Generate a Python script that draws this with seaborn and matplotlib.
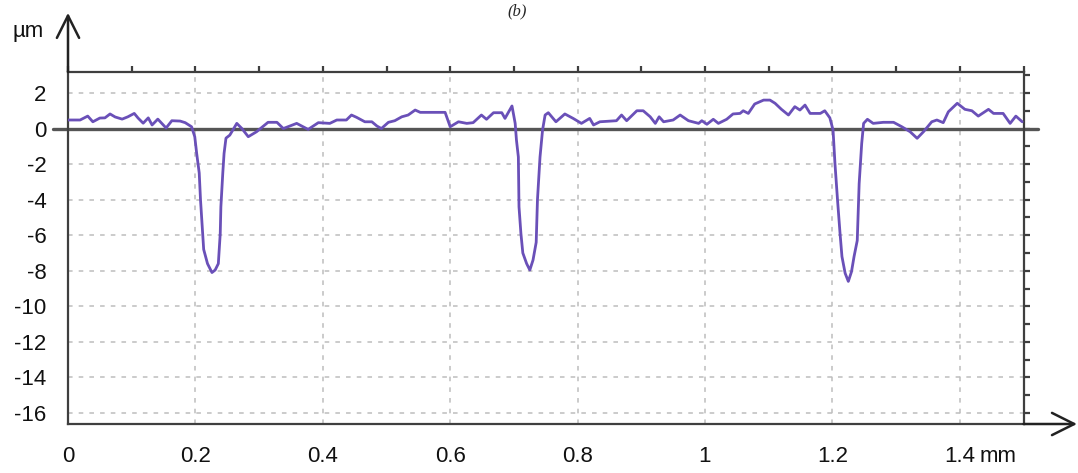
import matplotlib
matplotlib.use("Agg")
import matplotlib.pyplot as plt
import matplotlib.transforms as mtransforms
import seaborn as sns

# profile: position in mm, height in um
pos_mm = [0.000, 0.019, 0.031, 0.039, 0.050, 0.058, 0.066, 0.074, 0.085, 0.094,
          0.104, 0.110, 0.118, 0.126, 0.132, 0.141, 0.154, 0.163, 0.176, 0.184,
          0.194, 0.199, 0.202, 0.206, 0.208, 0.211, 0.213, 0.219, 0.226, 0.231,
          0.236, 0.239, 0.240, 0.243, 0.245, 0.248, 0.254, 0.265, 0.273, 0.283,
          0.296, 0.314, 0.328, 0.338, 0.359, 0.377, 0.393, 0.411, 0.422, 0.437,
          0.445, 0.453, 0.466, 0.477, 0.485, 0.492, 0.503, 0.513, 0.524, 0.534,
          0.545, 0.553, 0.592, 0.600, 0.613, 0.626, 0.636, 0.649, 0.657, 0.668,
          0.681, 0.686, 0.697, 0.702, 0.704, 0.707, 0.708, 0.711, 0.714, 0.720,
          0.725, 0.730, 0.735, 0.737, 0.741, 0.745, 0.749, 0.754, 0.766, 0.780,
          0.793, 0.806, 0.819, 0.825, 0.835, 0.851, 0.861, 0.869, 0.877, 0.893,
          0.903, 0.914, 0.922, 0.928, 0.935, 0.950, 0.961, 0.974, 0.990, 0.995,
          1.003, 1.013, 1.021, 1.034, 1.044, 1.055, 1.060, 1.068, 1.078, 1.092,
          1.102, 1.110, 1.120, 1.131, 1.141, 1.149, 1.157, 1.165, 1.181, 1.188,
          1.196, 1.201, 1.204, 1.208, 1.212, 1.215, 1.220, 1.225, 1.230, 1.234,
          1.239, 1.242, 1.246, 1.249, 1.255, 1.264, 1.280, 1.296, 1.309, 1.322,
          1.333, 1.343, 1.356, 1.364, 1.374, 1.382, 1.396, 1.408, 1.419, 1.429,
          1.445, 1.453, 1.468, 1.479, 1.488, 1.495, 1.498]
height_um = [0.48, 0.48, 0.70, 0.38, 0.59, 0.60, 0.82, 0.65, 0.53, 0.66,
             0.85, 0.59, 0.30, 0.60, 0.20, 0.53, 0.03, 0.44, 0.42, 0.33,
             0.10, -0.46, -1.4, -2.5, -4.0, -5.7, -6.8, -7.6, -8.1, -7.96,
             -7.6, -5.9, -4.4, -2.5, -1.4, -0.54, -0.37, 0.29, 0.0, -0.46,
             -0.18, 0.35, 0.35, 0.0, 0.29, -0.05, 0.33, 0.29, 0.48, 0.48,
             0.76, 0.63, 0.38, 0.38, 0.14, 0.0, 0.35, 0.44, 0.66, 0.76,
             1.04, 0.91, 0.91, 0.10, 0.38, 0.29, 0.33, 0.76, 0.52, 0.89,
             0.89, 0.57, 1.27, 0.29, -0.65, -1.6, -4.4, -5.9, -7.0, -7.6,
             -7.96, -7.4, -6.4, -4.0, -1.6, -0.08, 0.76, 0.89, 0.38, 0.82,
             0.57, 0.29, 0.57, 0.20, 0.38, 0.42, 0.44, 0.76, 0.44, 1.0,
             1.0, 0.66, 0.29, 0.66, 0.38, 0.48, 0.76, 0.44, 0.29, 0.44,
             0.24, 0.52, 0.29, 0.52, 0.82, 0.85, 1.0, 0.85, 1.38, 1.6,
             1.6, 1.42, 1.08, 0.76, 1.23, 1.04, 1.32, 0.85, 0.85, 1.0,
             0.6, -0.08, -1.96, -4.0, -5.9, -7.2, -8.14, -8.6, -8.05, -7.2,
             -6.3, -3.1, -0.84, 0.29, 0.52, 0.29, 0.35, 0.35, 0.10, -0.18,
             -0.55, -0.18, 0.38, 0.48, 0.33, 0.94, 1.42, 1.08, 1.0, 0.70,
             1.08, 0.85, 0.85, 0.29, 0.70, 0.48, 0.38]

x_ticks = [0, 0.2, 0.4, 0.6, 0.8, 1.0, 1.2, 1.4]
x_labels = ["0", "0.2", "0.4", "0.6", "0.8", "1", "1.2", "1.4"]
y_ticks = [2, 0, -2, -4, -6, -8, -10, -12, -14, -16]
y_labels = ["2", "0", "-2", "-4", "-6", "-8", "-10", "-12", "-14", "-16"]

sns.set_style("white")
plt.rcParams['font.family'] = ['Liberation Sans', 'DejaVu Sans']

fig = plt.figure(figsize=(10.78, 4.73), dpi=100)
ax = fig.add_axes([68 / 1078, 1 - 424 / 473, (1023.5 - 68) / 1078, (424 - 72) / 473])

axis_col = "#3f3f3f"
grid_col = "#bdbdbd"

# dashed grid at the major ticks
for xv in x_ticks[1:]:
    ax.axvline(xv, color=grid_col, lw=1.1, ls=(0, (3, 4)), zorder=1)
for yv in y_ticks:
    if yv != 0:
        ax.axhline(yv, color=grid_col, lw=1.1, ls=(0, (3, 4)), zorder=1)

# zero line, a bit longer than the frame
trans = mtransforms.blended_transform_factory(ax.transAxes, ax.transData)
ax.plot([-0.016, 1.015], [0, 0], color="#555555", lw=2.4, transform=trans,
        clip_on=False, zorder=2)

sns.lineplot(x=pos_mm, y=height_um, ax=ax, color="#6a50b8", lw=2.0,
             sort=False, zorder=3)

ax.set_xlim(0, 1.5)
ax.set_ylim(-16.62, 3.18)
ax.set_xticks(x_ticks)
ax.set_xticklabels(x_labels)
ax.set_xticks([i / 10 for i in range(1, 16, 2)], minor=True)
ax.set_yticks(y_ticks)
ax.set_yticklabels(y_labels)
ax.set_yticks(list(range(-15, 4, 2)), minor=True)

for s in ax.spines.values():
    s.set_color(axis_col)
    s.set_linewidth(1.6)

ax.tick_params(which="both", direction="out", top=True, right=True,
               color=axis_col, width=1.6, length=4.5)
ax.tick_params(axis="both", which="major", labelsize=16, labelcolor="#111111")
ax.tick_params(axis="x", which="major", pad=11)
ax.tick_params(axis="y", which="major", pad=11)
ax.set_xlabel("")
ax.set_ylabel("")

# axis arrows
arrow = dict(arrowstyle="->, head_length=0.8, head_width=0.4", color="#222222",
             lw=1.8, mutation_scale=20, shrinkA=0, shrinkB=0)
ax.annotate("", xy=(0, 1.168), xytext=(0, 1.0), xycoords="axes fraction",
            arrowprops=arrow)
ax.annotate("", xy=(1.056, 0), xytext=(1.0, 0), xycoords="axes fraction",
            arrowprops=arrow)

fig.text(28 / 1078, 1 - 32 / 473, "µm", fontsize=16, ha="center", va="center",
         color="#111111")
fig.text(980 / 1078, 1 - 456 / 473, "mm", fontsize=16, ha="left", va="center",
         color="#111111")
fig.text(517 / 1078, 1 - 11 / 473, "(b)", fontsize=12, style="italic",
         family=["Liberation Serif", "DejaVu Serif"], ha="center", va="center")

fig.savefig("out.png", dpi=100)
